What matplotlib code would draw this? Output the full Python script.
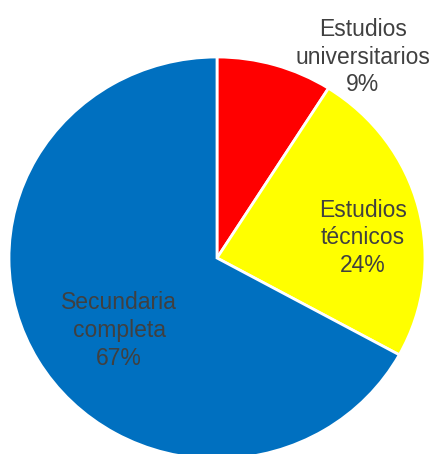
import matplotlib.pyplot as plt

categories = ["Estudios\nuniversitarios", "Estudios\ntécnicos", "Secundaria\ncompleta"]
shares = [9, 24, 67]
colors = ["#FF0000", "#FFFF00", "#0070C0"]

# label centres in axes data units (pie radius = 1)
label_pos = [(0.70, 1.0), (0.70, 0.10), (-0.47, -0.36)]

plt.rcParams["font.family"] = ["Liberation Sans", "DejaVu Sans"]

W, H = 438, 454
fig = plt.figure(figsize=(W / 100, H / 100), dpi=100)

cx, cy, rx, ry = 217, 258, 208, 201
ax = fig.add_axes([(cx - rx) / W, (H - cy - ry) / H, 2 * rx / W, 2 * ry / H])

ax.pie(
    shares,
    colors=colors,
    startangle=90,
    counterclock=False,
    wedgeprops={"edgecolor": "white", "linewidth": 2},
)
ax.set_aspect("auto")
ax.set_xlim(-1, 1)
ax.set_ylim(-1, 1)
ax.axis("off")

for name, val, (x, y) in zip(categories, shares, label_pos):
    ax.text(x, y, f"{name}\n{val}%", ha="center", va="center",
            fontsize=16.5, color="#404040", linespacing=1.27, clip_on=False)

fig.savefig("out.png", dpi=100)
